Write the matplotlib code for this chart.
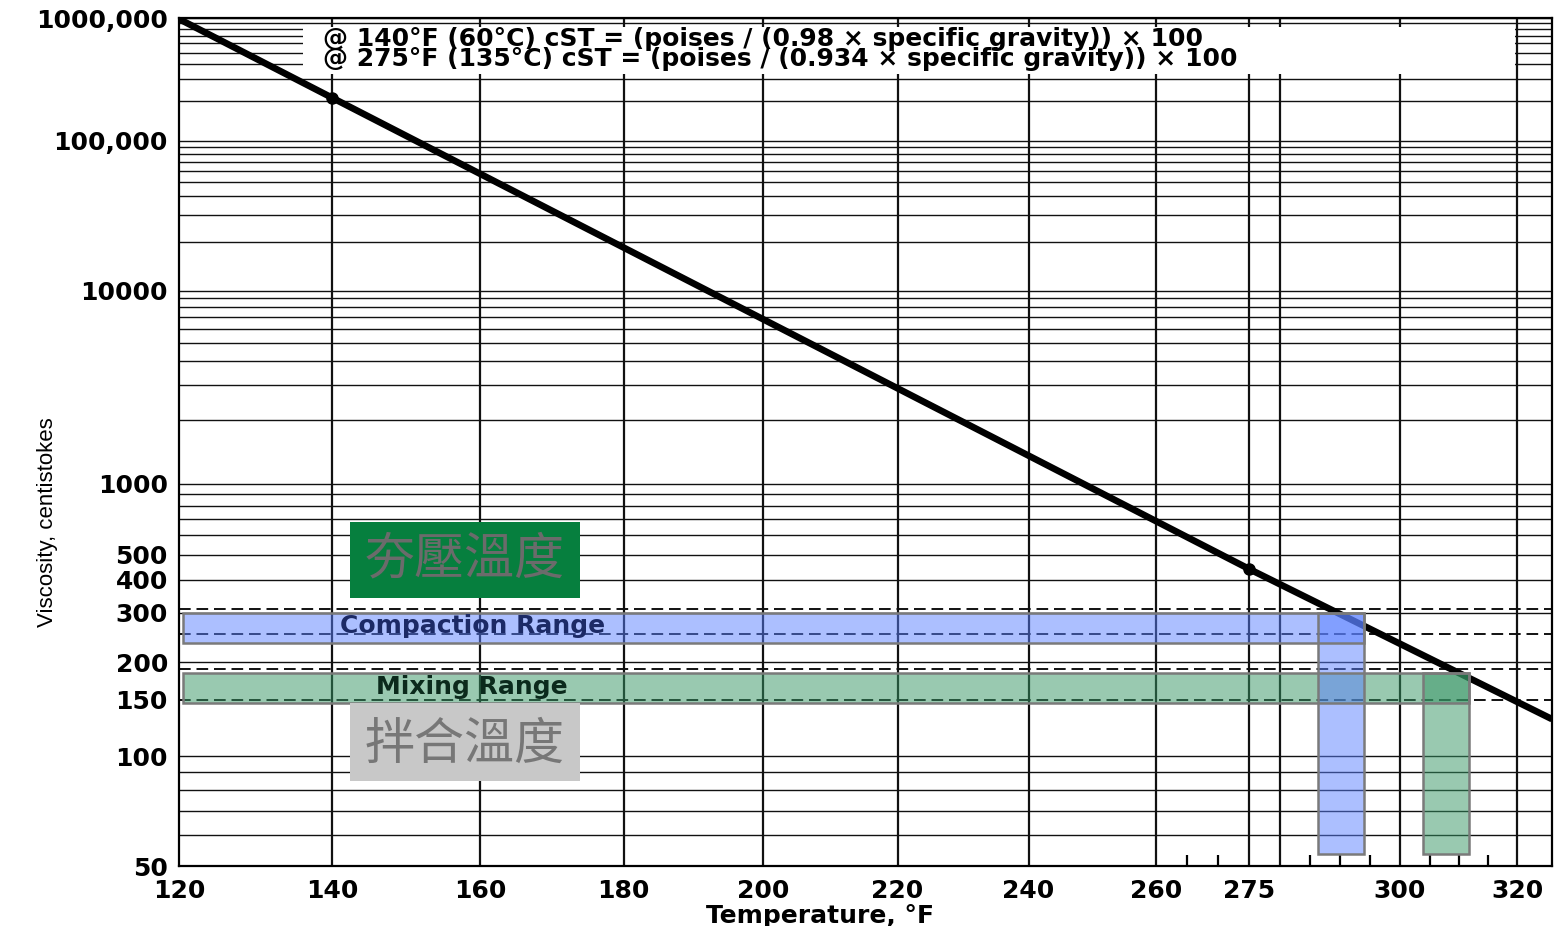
import numpy as np
import matplotlib
matplotlib.use("Agg")
import matplotlib.pyplot as plt
from matplotlib.patches import Rectangle

plt.rcParams['font.family'] = ['DejaVu Sans', 'Noto Sans CJK TC']

# viscosity-temperature line (deg F, centistokes)
line_temp = [120, 140, 275, 326]
line_visc = [980000, 213000, 440, 130]

# ranges (cSt) and resulting temperature windows (deg F)
compaction_visc = [234, 300]
compaction_temp = [286.4, 293.9]
mixing_visc = [146, 184]
mixing_temp = [303.9, 311.7]
range_bottom = 53.7
band_start = 120.5
dashed_limits = [310, 250, 190, 150]

y_ticks = [50, 100, 150, 200, 300, 400, 500, 1000, 10000, 100000, 1000000]
y_labels = ["50", "100", "150", "200", "300", "400", "500", "1000", "10000", "100,000", "1000,000"]
x_ticks = [120, 140, 160, 180, 200, 220, 240, 260, 275, 300, 320]
x_minor = [265, 270, 285, 290, 295, 305, 310, 315]
v_grid = [140, 160, 180, 200, 220, 240, 260, 275, 280, 300, 320]
h_grid = [50, 60, 70, 80, 90] + [m * 10 ** k for k in (2, 3, 4, 5) for m in range(1, 10)] + [1000000]

note = ("@ 140°F (60°C) cST = (poises / (0.98 × specific gravity)) × 100\n"
        "@ 275°F (135°C) cST = (poises / (0.934 × specific gravity)) × 100")


def fwd_x(t):
    return np.log10(np.asarray(t, dtype=float) + 460.0)


def inv_x(u):
    return 10 ** np.asarray(u, dtype=float) - 460.0


def fwd_y(v):
    v = np.clip(np.asarray(v, dtype=float), 1.0001, None)
    return np.log10(np.log10(v))


def inv_y(w):
    return 10 ** (10 ** np.asarray(w, dtype=float))


fig = plt.figure(figsize=(15.54, 9.26), dpi=100)
ax = fig.add_axes([179 / 1554, 1 - 866 / 926, 1373 / 1554, 848 / 926])
ax.set_xscale('function', functions=(fwd_x, inv_x))
ax.set_yscale('function', functions=(fwd_y, inv_y))
ax.set_xlim(120, 326)
ax.set_ylim(50, 1000000)

# grid
for v in h_grid:
    ax.axhline(v, color='#111111', lw=1.0, zorder=1)
for t in v_grid:
    ax.axvline(t, color='#111111', lw=1.6, zorder=1)
for v in dashed_limits:
    ax.axhline(v, color='#111111', lw=1.4, ls=(0, (6, 3)), zorder=1)

# viscosity line
ax.plot(line_temp, line_visc, color='black', lw=4.8, zorder=3,
        marker='o', ms=8, markevery=[1, 2], solid_capstyle='butt')

# ranges
blue = '#5a80ff'
green = '#359563'
edge = '#7a7a7a'


def band(x0, x1, y0, y1, color):
    ax.add_patch(Rectangle((x0, y0), x1 - x0, y1 - y0, fc=color, alpha=0.5, zorder=4))
    ax.add_patch(Rectangle((x0, y0), x1 - x0, y1 - y0, fc='none', ec=edge, lw=1.8, zorder=5))


band(band_start, compaction_temp[1], compaction_visc[0], compaction_visc[1], blue)
band(band_start, mixing_temp[1], mixing_visc[0], mixing_visc[1], green)
band(compaction_temp[0], compaction_temp[1], range_bottom, compaction_visc[1], blue)
band(mixing_temp[0], mixing_temp[1], range_bottom, mixing_visc[1], green)

ax.text(0.214, np.mean(compaction_visc), "Compaction Range", transform=ax.get_yaxis_transform(),
        ha='center', va='center', fontsize=18, fontweight='bold', color='#1c2a66', zorder=6)
ax.text(0.213, np.mean(mixing_visc), "Mixing Range", transform=ax.get_yaxis_transform(),
        ha='center', va='center', fontsize=18, fontweight='bold', color='#0b2a1c', zorder=6)

# chinese labels
ax.add_patch(Rectangle((0.1245, 0.316), 0.1675, 0.0897, transform=ax.transAxes,
                       fc='#067f3e', ec='none', zorder=7))
ax.text(0.208, 0.361, "夯壓溫度", transform=ax.transAxes, ha='center', va='center',
        fontsize=36, color='#6b6b6b', family=['Noto Sans CJK TC'], zorder=8)
ax.add_patch(Rectangle((0.1245, 0.1002), 0.1675, 0.092, transform=ax.transAxes,
                       fc='#c8c8c8', ec='none', zorder=7))
ax.text(0.208, 0.1425, "拌合溫度", transform=ax.transAxes, ha='center', va='center',
        fontsize=36, color='#777777', family=['Noto Sans CJK TC'], zorder=8)

# formula note
ax.add_patch(Rectangle((0.0903, 0.934), 0.8827, 0.0554, transform=ax.transAxes,
                       fc='white', ec='none', zorder=6))
ax.text(0.105, 0.963, note, transform=ax.transAxes, ha='left', va='center',
        fontsize=18, fontweight='bold', linespacing=0.78, zorder=7)

# axes
ax.set_yticks(y_ticks)
ax.set_yticklabels(y_labels)
ax.set_yticks([], minor=True)
ax.set_xticks(x_ticks)
ax.set_xticklabels([str(t) for t in x_ticks])
ax.set_xticks(x_minor, minor=True)
ax.tick_params(axis='both', which='major', length=0, labelsize=18)
ax.tick_params(axis='y', pad=8)
ax.tick_params(axis='x', pad=9)
ax.tick_params(axis='x', which='minor', direction='in', length=8, width=1.6)
for lab in ax.get_xticklabels() + ax.get_yticklabels():
    lab.set_fontweight('bold')
for s in ax.spines.values():
    s.set_linewidth(1.6)

ax.set_xlabel("Temperature, °F", fontsize=18, fontweight='bold')
ax.xaxis.set_label_coords(0.467, -0.045)
ax.set_ylabel("Viscosity, centistokes", fontsize=16, family=['Liberation Sans'])
ax.yaxis.set_label_coords(-0.088, 0.406)

fig.savefig("out.png", dpi=100)
